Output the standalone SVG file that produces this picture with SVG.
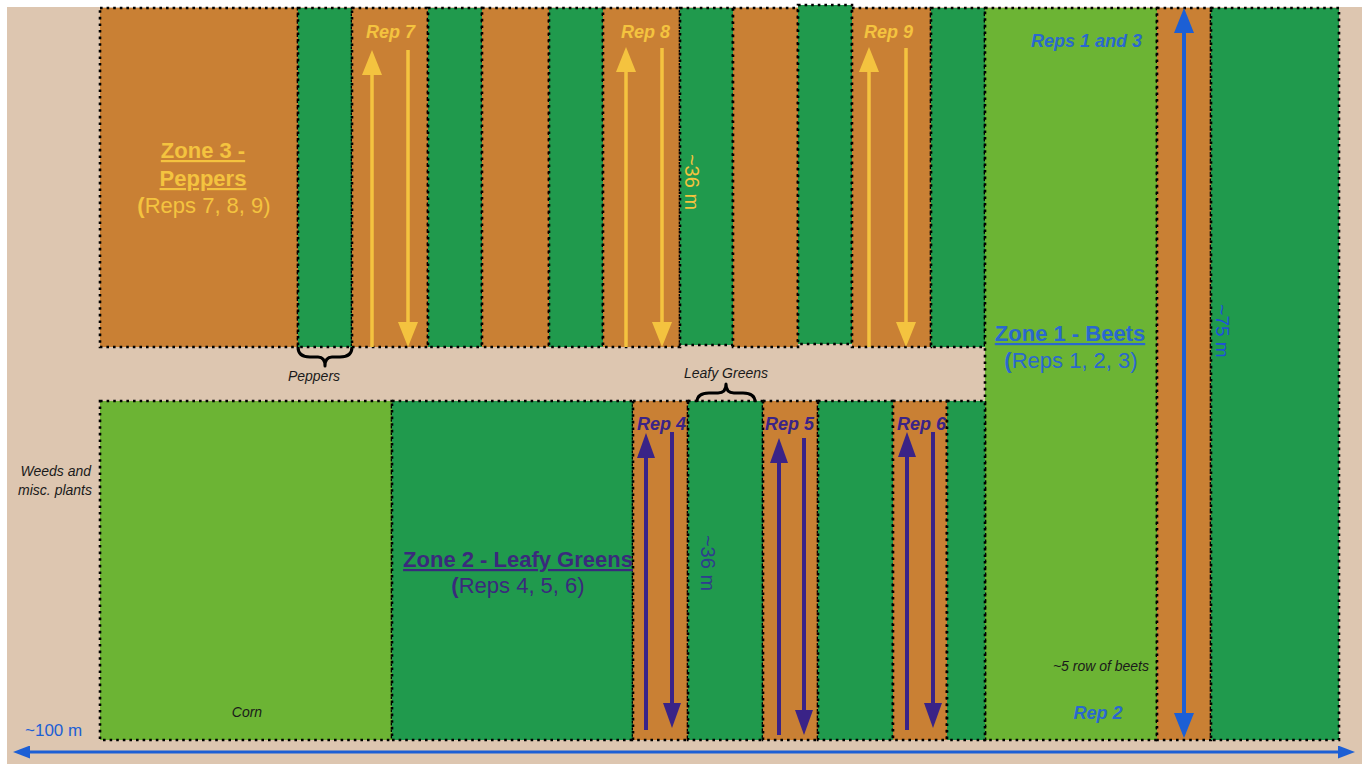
<svg xmlns="http://www.w3.org/2000/svg" width="1362" height="764" viewBox="0 0 1362 764">
<defs>
<style>
.bg{fill:#ddc6b0}
.or{fill:#c98034;stroke:#000;stroke-width:2.6;stroke-dasharray:2.6 4}
.dg{fill:#209a4d;stroke:#000;stroke-width:2.6;stroke-dasharray:2.6 4}
.lg{fill:#6cb434;stroke:#000;stroke-width:2.6;stroke-dasharray:2.6 4}
.t{font-family:"Liberation Sans",Arial,sans-serif}
.zt{font-size:22px;font-weight:bold;text-decoration:underline}
.zs{font-size:22px}
.rep{font-size:18px;font-weight:bold;font-style:italic}
.sm{font-size:14px;font-style:italic;fill:#1a1a1a}
.dim{font-size:20px}
.ya{stroke:#f4c33f;stroke-width:3.5;fill:none}
.pa{stroke:#3a2387;stroke-width:4;fill:none}
.ba{stroke:#1c5fd5;stroke-width:4;fill:none}
.brace{stroke:#000;stroke-width:3;fill:none;stroke-linejoin:round}
</style>
<marker id="yh" viewBox="0 0 25 20" markerWidth="25" markerHeight="20" refX="15" refY="10" markerUnits="userSpaceOnUse" orient="auto-start-reverse"><path d="M0,0 L25,10 L0,20 z" fill="#f4c33f"/></marker>
<marker id="ph" viewBox="0 0 25 18" markerWidth="25" markerHeight="18" refX="15" refY="9" markerUnits="userSpaceOnUse" orient="auto-start-reverse"><path d="M0,0 L25,9 L0,18 z" fill="#3a2387"/></marker>
<marker id="bh" viewBox="0 0 25 20" markerWidth="25" markerHeight="20" refX="15" refY="10" markerUnits="userSpaceOnUse" orient="auto-start-reverse"><path d="M0,0 L25,10 L0,20 z" fill="#1c5fd5"/></marker>
<marker id="bhh" viewBox="0 0 17 13" markerWidth="17" markerHeight="13" refX="10" refY="6.5" markerUnits="userSpaceOnUse" orient="auto-start-reverse"><path d="M0,0 L17,6.5 L0,13 z" fill="#1c5fd5"/></marker>
</defs>
<rect x="0" y="0" width="1362" height="764" fill="#ffffff"/>
<rect class="bg" x="7" y="7" width="1355" height="757"/>

<!-- top row: zone 3 peppers -->
<g id="zone3-main"><rect class="or" x="100" y="8" width="198" height="339"/></g>
<g id="top-g1"><rect class="dg" x="298" y="8" width="54" height="339"/></g>
<g id="rep7"><rect class="or" x="352" y="8" width="76" height="339"/></g>
<g id="top-g2"><rect class="dg" x="428" y="8" width="54" height="339"/></g>
<g id="top-o2"><rect class="or" x="482" y="8" width="67" height="339"/></g>
<g id="top-g3"><rect class="dg" x="549" y="8" width="54" height="339"/></g>
<g id="rep8"><rect class="or" x="603" y="8" width="77" height="339"/></g>
<g id="top-g4"><rect class="dg" x="680" y="8" width="53" height="337"/></g>
<g id="top-o3"><rect class="or" x="733" y="8" width="65" height="339"/></g>
<g id="top-g5"><rect class="dg" x="798" y="5" width="54" height="339"/></g>
<g id="rep9"><rect class="or" x="852" y="8" width="79" height="339"/></g>
<g id="top-g6"><rect class="dg" x="931" y="8" width="54" height="339"/></g>

<!-- zone 1 beets -->
<g id="zone1-beets"><rect class="lg" x="985" y="8" width="172" height="732"/></g>
<g id="zone1-path"><rect class="or" x="1157" y="8" width="54" height="732"/></g>
<g id="zone1-green"><rect class="dg" x="1211" y="8" width="128" height="732"/></g>

<!-- bottom row: zone 2 leafy greens -->
<g id="corn"><rect class="lg" x="100" y="401" width="292" height="339"/></g>
<g id="zone2-main"><rect class="dg" x="392" y="401" width="241" height="339"/></g>
<g id="rep4"><rect class="or" x="633" y="401" width="55" height="339"/></g>
<g id="bot-g1"><rect class="dg" x="688" y="401" width="75" height="339"/></g>
<g id="rep5"><rect class="or" x="763" y="401" width="55" height="339"/></g>
<g id="bot-g2"><rect class="dg" x="818" y="401" width="75" height="339"/></g>
<g id="rep6"><rect class="or" x="893" y="401" width="54" height="339"/></g>
<g id="bot-g3"><rect class="dg" x="947" y="401" width="38" height="339"/></g>

<!-- connectors -->
<g id="connectors">
<line class="ya" x1="372" y1="347" x2="372" y2="60" marker-end="url(#yh)"/>
<line class="ya" x1="408" y1="50" x2="408" y2="337" marker-end="url(#yh)"/>
<line class="ya" x1="626" y1="347" x2="626" y2="57" marker-end="url(#yh)"/>
<line class="ya" x1="662" y1="48" x2="662" y2="337" marker-end="url(#yh)"/>
<line class="ya" x1="869" y1="347" x2="869" y2="57" marker-end="url(#yh)"/>
<line class="ya" x1="906" y1="48" x2="906" y2="337" marker-end="url(#yh)"/>

<line class="pa" x1="646" y1="730" x2="646" y2="443" marker-end="url(#ph)"/>
<line class="pa" x1="672" y1="432" x2="672" y2="718" marker-end="url(#ph)"/>
<line class="pa" x1="779" y1="735" x2="779" y2="448" marker-end="url(#ph)"/>
<line class="pa" x1="804" y1="438" x2="804" y2="725" marker-end="url(#ph)"/>
<line class="pa" x1="907" y1="730" x2="907" y2="442" marker-end="url(#ph)"/>
<line class="pa" x1="933" y1="432" x2="933" y2="718" marker-end="url(#ph)"/>

<line class="ba" x1="1184" y1="18" x2="1184" y2="728" marker-start="url(#bh)" marker-end="url(#bh)"/>
<line class="ba" style="stroke-width:3" x1="20" y1="752" x2="1348" y2="752" marker-start="url(#bhh)" marker-end="url(#bhh)"/>

<path class="brace" d="M298,347 Q298,357 310,357 L318,357 Q325,357 325,366 Q325,357 332,357 L340,357 Q352,357 352,347"/>
<path class="brace" d="M697,402 Q697,393 709,393 L718,393 Q726,393 726,384 Q726,393 734,393 L743,393 Q755,393 755,402"/>
</g>

<!-- labels -->
<g id="labels" class="t">
<text class="zt" x="203" y="158" text-anchor="middle" fill="#f4c33f">Zone 3 -</text>
<text class="zt" x="203" y="186" text-anchor="middle" fill="#f4c33f">Peppers</text>
<text class="zs" x="204" y="213" text-anchor="middle" fill="#f4c33f"><tspan font-weight="bold">(</tspan>Reps 7, 8, 9)</text>

<text class="rep" x="366" y="38" fill="#f4c33f">Rep 7</text>
<text class="rep" x="621" y="38" fill="#f4c33f">Rep 8</text>
<text class="rep" x="864" y="38" fill="#f4c33f">Rep 9</text>
<text class="dim" transform="translate(692,182) rotate(90)" text-anchor="middle" dominant-baseline="central" fill="#f4c33f">~36 m</text>

<text class="zt" x="1070" y="341" text-anchor="middle" fill="#2a68cf">Zone 1 - Beets</text>
<text class="zs" x="1071" y="368" text-anchor="middle" fill="#2a68cf"><tspan font-weight="bold">(</tspan>Reps 1, 2, 3)</text>
<text class="rep" x="1142" y="47" text-anchor="end" fill="#2a68cf">Reps 1 and 3</text>
<text class="rep" x="1098" y="719" text-anchor="middle" fill="#2a68cf">Rep 2</text>
<text class="sm" x="1149" y="671" text-anchor="end">~5 row of beets</text>
<text transform="translate(1222,331) rotate(90)" text-anchor="middle" dominant-baseline="central" font-size="19" fill="#1e4fdc">~75 m</text>

<text class="zt" x="518" y="567" text-anchor="middle" fill="#3a2a7c">Zone 2 - Leafy Greens</text>
<text class="zs" x="518" y="593" text-anchor="middle" fill="#3a2a7c"><tspan font-weight="bold">(</tspan>Reps 4, 5, 6)</text>
<text class="rep" x="637" y="430" fill="#3a2387">Rep 4</text>
<text class="rep" x="765" y="430" fill="#3a2387">Rep 5</text>
<text class="rep" x="897" y="430" fill="#3a2387">Rep 6</text>
<text class="dim" transform="translate(708,563) rotate(90)" text-anchor="middle" dominant-baseline="central" fill="#2e3d8e">~36 m</text>

<text class="sm" x="314" y="381" text-anchor="middle">Peppers</text>
<text class="sm" x="726" y="378" text-anchor="middle">Leafy Greens</text>
<text class="sm" x="91" y="476" text-anchor="end">Weeds and</text>
<text class="sm" x="92" y="495" text-anchor="end">misc. plants</text>
<text class="sm" x="247" y="717" text-anchor="middle">Corn</text>
<text x="25" y="736" font-size="17" fill="#1c5fd5">~100 m</text>
</g>
</svg>
